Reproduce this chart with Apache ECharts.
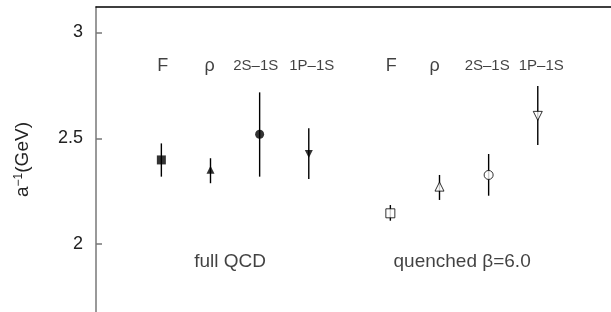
<!DOCTYPE html>
<html>
<head>
<meta charset="utf-8">
<script src="https://cdn.jsdelivr.net/npm/echarts@6/dist/echarts.min.js"></script>
<style>
  html, body { margin: 0; padding: 0; background: #fff; }
  #chart { width: 611px; height: 312px; }
</style>
</head>
<body>
<div id="chart"></div>
<script>
// ---- data ----
const quantities = ['F', 'ρ', '2S–1S', '1P–1S'];
const groupNames = ['full QCD', 'quenched β=6.0'];
const yTicks = [2, 2.5, 3];

// horizontal slot of each quantity (arbitrary units)
const xFull = [1, 2, 3, 4];
const xQuen = [5.66, 6.66, 7.66, 8.66];

// full QCD: central value, upper and lower end of the error bar
const fullVal = [2.398, 2.352, 2.519, 2.426];
const fullHi  = [2.476, 2.406, 2.717, 2.547];
const fullLo  = [2.319, 2.288, 2.319, 2.308];

// quenched beta=6.0
const quenVal = [2.146, 2.272, 2.327, 2.606];
const quenHi  = [2.185, 2.327, 2.426, 2.747];
const quenLo  = [2.111, 2.209, 2.229, 2.468];

// text placement (data coordinates)
const labelXFull = [1.03, 1.98, 2.92, 4.06];
const labelXQuen = [5.68, 6.56, 7.63, 8.73];
const labelY = 2.843;
const groupLabelX = [2.40, 7.12];
const groupLabelY = 1.917;

// ---- styles ----
const symbols = ['rect', 'triangle', 'circle', 'triangle'];
const symbolRot = [0, 0, 0, 180];
const fullSizes = [9, 8, 9, 8];
const quenSizes = [9, 9, 9, 9];
const FONT = 'Liberation Sans, Arial, Helvetica, sans-serif';

function errData(xs, lo, hi) { return xs.map((x, i) => [x, lo[i], hi[i]]); }
function markData(xs, vals, sizes, open) {
  return xs.map((x, i) => ({
    value: [x, vals[i]],
    symbol: symbols[i],
    symbolRotate: symbolRot[i],
    symbolSize: sizes[i],
    itemStyle: open ? { color: '#fff', borderColor: '#000', borderWidth: 1 } : { color: '#000' }
  }));
}
function labelData(xs) {
  return xs.map((x, i) => ({ value: [x, labelY], name: quantities[i],
    label: { fontSize: quantities[i].length > 1 ? 15 : 18 } }));
}

const errSeries = (data) => ({
  type: 'custom',
  data: data,
  renderItem: function (params, api) {
    const p1 = api.coord([api.value(0), api.value(1)]);
    const p2 = api.coord([api.value(0), api.value(2)]);
    return { type: 'line', shape: { x1: p1[0], y1: p1[1], x2: p2[0], y2: p2[1] },
             style: { stroke: '#000', lineWidth: 1.4 } };
  },
  silent: true
});

const chart = echarts.init(document.getElementById('chart'), null, { renderer: 'canvas' });
chart.setOption({
  animation: false,
  backgroundColor: '#fff',
  grid: { left: 96, right: 0, top: 7, bottom: 0, containLabel: false },
  xAxis: {
    type: 'value', min: -0.33, max: 10.15, position: 'top',
    axisLine: { show: true, onZero: false, lineStyle: { color: '#000', width: 1.5 } },
    axisTick: { show: false }, axisLabel: { show: false }, splitLine: { show: false }
  },
  yAxis: {
    type: 'value', min: 1.68, max: 3.12,
    name: '{a|a}{s|−1}{a|(GeV)}',
    nameLocation: 'middle', nameGap: 64, nameRotate: 90,
    nameTextStyle: {
      rich: {
        a: { fontSize: 19, fontFamily: FONT, color: '#222' },
        s: { fontSize: 12, fontFamily: FONT, color: '#222', verticalAlign: 'top' }
      }
    },
    axisLine: { show: true, onZero: false, lineStyle: { color: '#777', width: 1.5 } },
    axisTick: { show: true, inside: true, length: 6, customValues: yTicks, lineStyle: { color: '#777', width: 1.5 } },
    axisLabel: { show: true, customValues: yTicks, margin: 13, fontSize: 18, fontFamily: FONT, color: '#222',
                 formatter: v => String(v) },
    splitLine: { show: false }
  },
  series: [
    errSeries(errData(xFull, fullLo, fullHi)),
    errSeries(errData(xQuen, quenLo, quenHi)),
    { type: 'scatter', data: markData(xFull, fullVal, fullSizes, false), silent: true },
    { type: 'scatter', data: markData(xQuen, quenVal, quenSizes, true), silent: true },
    {
      type: 'scatter', symbolSize: 0, silent: true,
      data: labelData(labelXFull).concat(labelData(labelXQuen)),
      label: { show: true, position: 'inside', formatter: p => p.name, color: '#111', fontFamily: FONT }
    },
    {
      type: 'scatter', symbolSize: 0, silent: true,
      data: groupLabelX.map((x, i) => ({ value: [x, groupLabelY], name: groupNames[i] })),
      label: { show: true, position: 'inside', formatter: p => p.name, color: '#111', fontFamily: FONT, fontSize: 19 }
    }
  ]
});
</script>
</body>
</html>
